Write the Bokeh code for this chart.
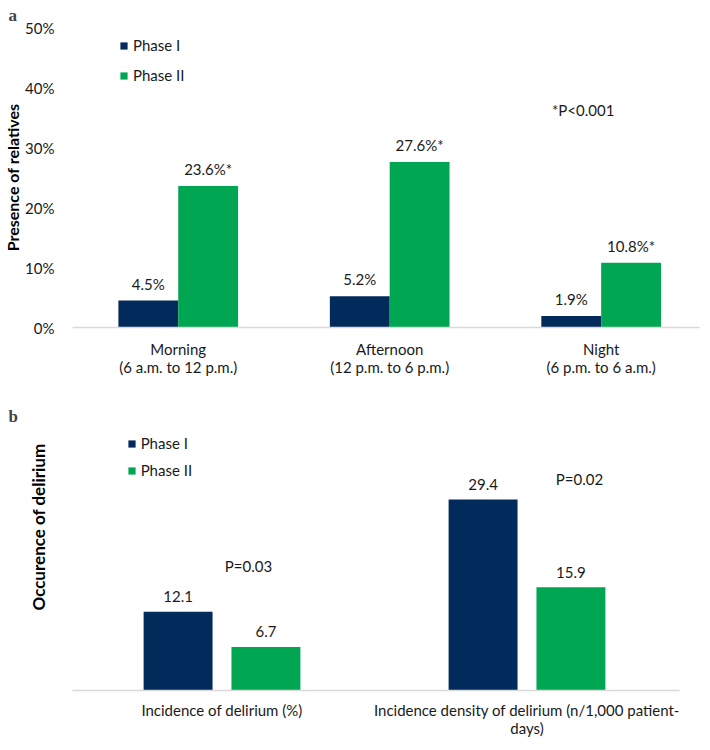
from bokeh.plotting import figure
from bokeh.models import ColumnDataSource, Legend, LegendItem, FixedTicker, Title
from bokeh.layouts import column
from bokeh.embed import file_html
from bokeh.resources import INLINE
from bokeh.core.properties import value

NAVY = "#022b5b"
GREEN = "#00a651"
FONT = "Lato"
TXT = "#1a1a1a"
AXIS_GREY = "#d9d9d9"
FS = "15px"

# ---------------- Panel a data ----------------
a_categories = ["Morning\n(6 a.m. to 12 p.m.)",
                "Afternoon\n(12 p.m. to 6 p.m.)",
                "Night\n(6 p.m. to 6 a.m.)"]
a_phase1 = [4.5, 5.2, 1.9]
a_phase2 = [23.6, 27.6, 10.8]
a_phase1_labels = ["4.5%", "5.2%", "1.9%"]
a_phase2_labels = ["23.6%*", "27.6%*", "10.8%*"]
a_yticks = [0, 10, 20, 30, 40, 50]
a_ytick_labels = ["0%", "10%", "20%", "30%", "40%", "50%"]
a_note = "*P<0.001"

# ---------------- Panel b data ----------------
b_categories = ["Incidence of delirium (%)",
                "Incidence density of delirium (n/1,000 patient-\ndays)"]
b_phase1 = [12.1, 29.4]
b_phase2 = [6.7, 15.9]
b_pvalues = ["P=0.03", "P=0.02"]

series_names = ["Phase I", "Phase II"]

FRAME_W = 627


def style_common(p):
    p.grid.visible = False
    p.outline_line_color = None
    p.background_fill_color = "white"
    p.border_fill_color = "white"
    p.xaxis.axis_line_color = AXIS_GREY
    p.xaxis.axis_line_width = 1.3
    p.xaxis.major_tick_line_color = None
    p.xaxis.minor_tick_line_color = None
    p.xaxis.major_label_text_font = FONT
    p.xaxis.major_label_text_font_size = FS
    p.xaxis.major_label_text_color = TXT
    p.xaxis.major_label_text_line_height = 1.0
    p.yaxis.axis_line_color = None
    p.yaxis.major_tick_line_color = None
    p.yaxis.minor_tick_line_color = None
    p.yaxis.axis_label_text_font = FONT
    p.yaxis.axis_label_text_font_style = "bold"
    p.yaxis.axis_label_text_color = "black"
    p.title.text_font = "Liberation Serif"
    p.title.text_font_style = "bold"
    p.title.text_font_size = "17px"
    p.title.align = "left"


def make_legend(renderers, loc, spacing):
    return Legend(items=[LegendItem(label=n, renderers=[r]) for n, r in zip(series_names, renderers)],
                  location=loc, border_line_color=None, background_fill_alpha=0,
                  padding=0, margin=0, spacing=spacing, glyph_width=9, glyph_height=9,
                  label_height=20, label_width=60, label_standoff=5,
                  label_text_font=FONT, label_text_font_size=FS, label_text_color=TXT)


# ================= Panel a =================
n_a = len(a_categories)
a_centers = [i + 0.5 for i in range(n_a)]
bw_a = 0.283
off_a = bw_a / 2
src_a = ColumnDataSource(dict(
    x1=[c - off_a for c in a_centers],
    x2=[c + off_a for c in a_centers],
    p1=a_phase1, p2=a_phase2,
    l1=a_phase1_labels, l2=a_phase2_labels,
))

pa = figure(frame_width=FRAME_W, frame_height=300, x_range=(0, 2.965), y_range=(0, 50),
            output_backend="svg", toolbar_location=None,
            min_border_left=65, min_border_right=2,
            min_border_top=22, min_border_bottom=50,
            title="a")
style_common(pa)
pa.title.offset = -64
pa.title.standoff = 6

r1 = pa.vbar(x="x1", top="p1", width=bw_a, source=src_a, fill_color=NAVY, line_color=None)
r2 = pa.vbar(x="x2", top="p2", width=bw_a, source=src_a, fill_color=GREEN, line_color=None)
for xc, yc, lc in (("x1", "p1", "l1"), ("x2", "p2", "l2")):
    pa.text(x=xc, y=yc, text=lc, source=src_a, text_align="center", text_baseline="middle",
            y_offset=-17, text_font=value(FONT), text_font_size=FS, text_color=TXT)
pa.text(x=[2.415], y=[36.2], text=[a_note], text_align="center", text_baseline="middle",
        text_font=value(FONT), text_font_size=FS, text_color=TXT)

pa.xaxis.ticker = FixedTicker(ticks=a_centers)
pa.xaxis.major_label_overrides = {c: lab for c, lab in zip(a_centers, a_categories)}
pa.xaxis.major_label_standoff = 6
pa.yaxis.ticker = FixedTicker(ticks=a_yticks)
pa.yaxis.major_label_overrides = {t: lab for t, lab in zip(a_yticks, a_ytick_labels)}
pa.yaxis.major_label_text_font = FONT
pa.yaxis.major_label_text_font_size = FS
pa.yaxis.major_label_text_color = TXT
pa.yaxis.major_label_standoff = 12
pa.yaxis.axis_label = "Presence of relatives"
pa.yaxis.axis_label_text_font_size = "16px"
pa.yaxis.axis_label_standoff = 0

pa.add_layout(make_legend([r1, r2], (47, 242), 10))

# ================= Panel b =================
n_b = len(b_categories)
b_centers = [i + 0.5 for i in range(n_b)]
cat_px_b = 305.0
bw_b = 0.226
off_b = 0.144
src_b = ColumnDataSource(dict(
    x1=[c - off_b for c in b_centers],
    x2=[c + off_b for c in b_centers],
    p1=b_phase1, p2=b_phase2,
    l1=[f"{v:.1f}" for v in b_phase1], l2=[f"{v:.1f}" for v in b_phase2],
))

FH_B = 258
PX_PER_UNIT_B = 6.5
ytop_b = FH_B / PX_PER_UNIT_B
pb = figure(frame_width=FRAME_W, frame_height=FH_B,
            x_range=(3 / cat_px_b, (FRAME_W + 3) / cat_px_b), y_range=(0, ytop_b),
            output_backend="svg", toolbar_location=None,
            min_border_left=65, min_border_right=2,
            min_border_top=54, min_border_bottom=48,
            title="b")
style_common(pb)
pb.title.offset = -64
pb.title.standoff = 14

s1 = pb.vbar(x="x1", top="p1", width=bw_b, source=src_b, fill_color=NAVY, line_color=None)
s2 = pb.vbar(x="x2", top="p2", width=bw_b, source=src_b, fill_color=GREEN, line_color=None)
for xc, yc, lc in (("x1", "p1", "l1"), ("x2", "p2", "l2")):
    pb.text(x=xc, y=yc, text=lc, source=src_b, text_align="center", text_baseline="middle",
            y_offset=-15, text_font=value(FONT), text_font_size=FS, text_color=TXT)
pb.text(x=[0.587, 1.672], y=[19.2, 32.6], text=b_pvalues, text_align="center",
        text_baseline="middle", text_font=value(FONT), text_font_size=FS, text_color=TXT)

pb.xaxis.ticker = FixedTicker(ticks=b_centers)
pb.xaxis.bounds = (0, n_b)
pb.xaxis.major_label_overrides = {c: lab for c, lab in zip(b_centers, b_categories)}
pb.xaxis.major_label_standoff = 4
pb.yaxis.visible = False

ytitle_b = Title(text="Occurence of delirium", align="left", offset=80,
                 vertical_align="top",
                 text_font=FONT, text_font_style="bold", text_font_size="17px",
                 text_color="black", standoff=44)
pb.add_layout(ytitle_b, "left")

pb.add_layout(make_legend([s1, s2], (59, 210), 7))

layout = column(pa, pb, spacing=0)
open("out.html", "w").write(file_html(layout, INLINE))
